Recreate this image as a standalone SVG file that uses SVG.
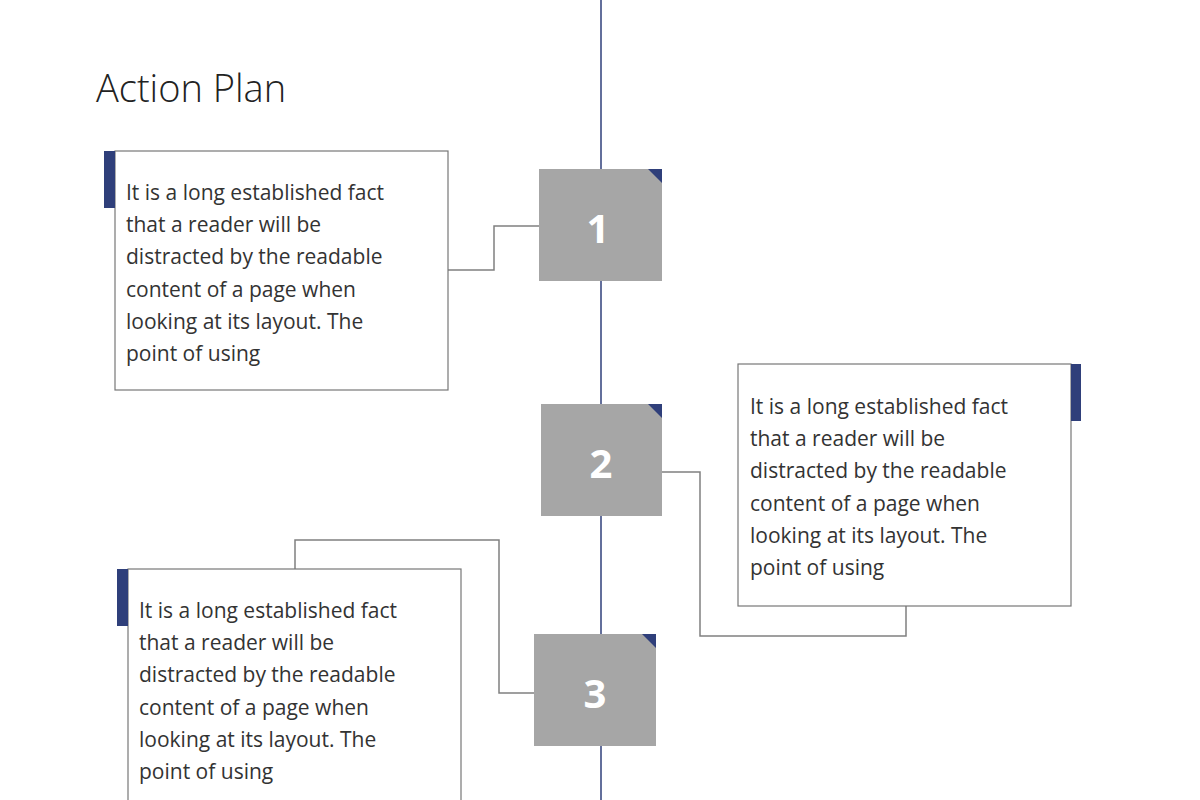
<svg xmlns="http://www.w3.org/2000/svg" width="1200" height="800" viewBox="0 0 1200 800">
<style>
.t{font-family:"Open Sans","Noto Sans",sans-serif;font-size:21px;fill:#333}
.box{fill:#fff;stroke:#777;stroke-width:1.2}
.bar{fill:#2f3f7a}
.sq{fill:#a6a6a6}
.num{font-family:"Open Sans","Liberation Sans",sans-serif;font-size:40px;font-weight:bold;fill:#fff;text-anchor:middle}
.c{fill:none;stroke:#808080;stroke-width:1.5}
</style>
<rect width="1200" height="800" fill="#fff"/>
<line x1="601" y1="0" x2="601" y2="800" stroke="#2f3f7a" stroke-width="1.5"/>
<text x="96" y="102" font-family="'Open Sans','Noto Sans',sans-serif" font-size="38" font-weight="300" fill="#222">Action Plan</text>
<g id="connectors">
<polyline class="c" points="448,270 494,270 494,226 539,226"/>
<polyline class="c" points="662,472 700,472 700,636 906,636 906,606"/>
<polyline class="c" points="534,693 499,693 499,540 295,540 295,569"/>
</g>
<g id="text1">
<rect class="box" x="115" y="151" width="333" height="239"/>
<rect class="bar" x="104" y="151" width="11" height="57"/>
<text class="t"><tspan x="126" y="200">It is a long established fact</tspan><tspan x="126" y="232">that a reader will be</tspan><tspan x="126" y="264">distracted by the readable</tspan><tspan x="126" y="297">content of a page when</tspan><tspan x="126" y="329">looking at its layout. The</tspan><tspan x="126" y="361">point of using</tspan></text>
</g>
<g id="text2">
<rect class="box" x="738" y="364" width="333" height="242"/>
<rect class="bar" x="1071" y="364" width="10" height="57"/>
<text class="t"><tspan x="750" y="414">It is a long established fact</tspan><tspan x="750" y="446">that a reader will be</tspan><tspan x="750" y="478">distracted by the readable</tspan><tspan x="750" y="511">content of a page when</tspan><tspan x="750" y="543">looking at its layout. The</tspan><tspan x="750" y="575">point of using</tspan></text>
</g>
<g id="text3">
<rect class="box" x="128" y="569" width="333" height="240"/>
<rect class="bar" x="117" y="569" width="11" height="57"/>
<text class="t"><tspan x="139" y="618">It is a long established fact</tspan><tspan x="139" y="650">that a reader will be</tspan><tspan x="139" y="682">distracted by the readable</tspan><tspan x="139" y="715">content of a page when</tspan><tspan x="139" y="747">looking at its layout. The</tspan><tspan x="139" y="779">point of using</tspan></text>
</g>
<g id="step1">
<rect class="sq" x="539" y="169" width="123" height="112"/>
<polygon class="bar" points="648,169 662,169 662,183"/>
<text class="num" x="598" y="243">1</text>
</g>
<g id="step2">
<rect class="sq" x="541" y="404" width="121" height="112"/>
<polygon class="bar" points="648,404 662,404 662,418"/>
<text class="num" x="601" y="478">2</text>
</g>
<g id="step3">
<rect class="sq" x="534" y="634" width="122" height="112"/>
<polygon class="bar" points="642,634 656,634 656,648"/>
<text class="num" x="595" y="708">3</text>
</g>
</svg>
